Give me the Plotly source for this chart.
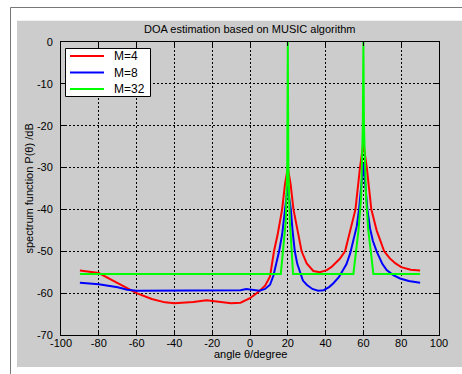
import plotly.graph_objects as go

# ---- data ----
red_x = [-90, -80, -70, -60, -52, -45, -40, -30, -23, -18, -10, -5, -2, 0, 3, 5, 8, 10.6, 12.7, 14.7,
         17, 18.5, 20, 21.5, 23, 25.3, 27.3, 30, 33.5, 37, 40.6, 43, 45, 47.5, 50.3, 53, 55.8, 58.2,
         59, 60, 61, 61.8, 64.2, 67, 71, 74, 77, 80, 85, 90]
red_y = [-54.6, -55.2, -57.6, -60.0, -61.4, -62.2, -62.4, -62.1, -61.7, -62.0, -62.4, -62.3, -61.7,
         -61.2, -60.2, -59.5, -58.2, -56.0, -50.0, -45.8, -40.0, -34.0, -30.0, -34.0, -40.0, -45.8,
         -50.0, -52.9, -54.7, -55.0, -54.5, -53.8, -52.9, -51.8, -50.0, -45.0, -40.0, -30.0, -27.5,
         -24.1, -27.5, -30.0, -40.0, -45.0, -50.0, -51.7, -52.9, -53.8, -54.4, -54.6]

blue_x = [-90, -80, -70, -65, -60, -50, -40, -20, -5, -2, 2, 5, 8, 10.6, 12.4, 14, 15.4, 17, 18.6,
          19.5, 20, 20.5, 21.6, 22.5, 23.7, 25, 26.5, 28, 30, 33, 36, 39, 42, 44, 47, 49.4, 51, 53,
          55, 56.5, 57.7, 59, 60, 61, 62.1, 63.5, 65, 67, 70, 72.3, 75.8, 79.4, 84, 90]
blue_y = [-57.5, -57.9, -58.6, -59.2, -59.4, -59.4, -59.4, -59.4, -59.3, -59.0, -59.3, -59.4, -59.0,
          -58.0, -55.8, -53.0, -50.0, -46.0, -40.0, -36.5, -34.3, -36.5, -40.0, -45.0, -50.0, -53.0,
          -55.3, -57.0, -58.0, -59.0, -59.4, -59.3, -58.5, -57.7, -56.2, -54.5, -53.1, -50.5, -47.0,
          -44.0, -40.0, -34.0, -29.0, -34.0, -40.0, -44.5, -47.5, -50.0, -53.0, -54.5, -55.7, -56.5,
          -57.1, -57.5]

green_x = [-90, 16.3, 18.9, 19.7, 20, 20.3, 21.1, 22.8, 54.7, 57.4, 58.8, 59.7, 60, 60.3, 61.4,
           62.6, 65.3, 90]
green_y = [-55.4, -55.4, -43, -30, 0, -30, -43, -55.4, -55.4, -45, -37, -20, 0, -20, -37, -45,
           -55.4, -55.4]

series_names = ["M=4", "M=8", "M=32"]
series_colors = ["#ff0000", "#0000ff", "#00ff00"]

x_ticks = [-100, -80, -60, -40, -20, 0, 20, 40, 60, 80, 100]
y_ticks = [0, -10, -20, -30, -40, -50, -60, -70]

FONT = "Liberation Sans, Arial, sans-serif"

fig = go.Figure()
for xs, ys, name, col in zip([red_x, blue_x, green_x], [red_y, blue_y, green_y],
                             series_names, series_colors):
    fig.add_trace(go.Scatter(x=xs, y=ys, mode="lines", name=name,
                             line=dict(color=col, width=2), showlegend=False))

W, H = 462, 374
L, R, T, B = 61, 439, 42, 335
pw, ph = R - L, B - T


def px(X):
    return (X - L) / pw


def py(Y):
    return (B - Y) / ph


axis_common = dict(showline=True, linecolor="black", linewidth=1, mirror="ticks",
                   ticks="inside", ticklen=4, tickcolor="black",
                   showgrid=True, gridcolor="black", gridwidth=1, griddash="2px,2px",
                   zeroline=False, tickfont=dict(family=FONT, size=11, color="black"))

shapes = [
    dict(type="rect", xref="paper", yref="paper", layer="below",
         x0=px(17), x1=px(470), y0=py(367), y1=py(20.7),
         fillcolor="#cccccc", line=dict(width=0)),
    dict(type="rect", xref="paper", yref="paper", layer="below",
         x0=px(10.5), x1=px(480), y0=py(390), y1=py(7.5),
         fillcolor="rgba(0,0,0,0)", line=dict(color="#777777", width=1)),
    # legend box
    dict(type="rect", xref="paper", yref="paper", layer="above",
         x0=px(65.5), x1=px(150.5), y0=py(96.5), y1=py(48.5),
         fillcolor="white", line=dict(color="black", width=1)),
]
annotations = [
    dict(text="DOA estimation based on MUSIC algorithm", xref="paper", yref="paper",
         x=0.5, y=py(29), xanchor="center", yanchor="middle", showarrow=False,
         font=dict(family=FONT, size=11, color="black")),
    dict(text="angle θ/degree", xref="paper", yref="paper",
         x=0.5, y=py(354), xanchor="center", yanchor="middle", showarrow=False,
         font=dict(family=FONT, size=11, color="black")),
    dict(text="spectrum function P(θ) /dB", xref="paper", yref="paper",
         x=px(28), y=0.5, xanchor="center", yanchor="middle", showarrow=False,
         textangle=-90, font=dict(family=FONT, size=11, color="black")),
]
legend_rows = [56, 72.5, 89]
for name, col, yy in zip(series_names, series_colors, legend_rows):
    shapes.append(dict(type="line", xref="paper", yref="paper", layer="above",
                       x0=px(70), x1=px(104), y0=py(yy), y1=py(yy),
                       line=dict(color=col, width=2)))
    annotations.append(dict(text=name, xref="paper", yref="paper", x=px(112), y=py(yy),
                            xanchor="left", yanchor="middle", showarrow=False,
                            font=dict(family=FONT, size=12, color="black")))

fig.update_layout(
    width=W, height=H,
    margin=dict(l=L, r=W - R, t=T, b=H - B, pad=0),
    paper_bgcolor="white", plot_bgcolor="white",
    showlegend=False,
    xaxis=dict(range=[-100, 100], tickvals=x_ticks, ticktext=[str(v) for v in x_ticks],
               ticklabelstandoff=-2, **axis_common),
    yaxis=dict(range=[-70, 0], tickvals=y_ticks, ticktext=[str(v) for v in y_ticks],
               ticklabelstandoff=5, **axis_common),
    shapes=shapes,
    annotations=annotations,
)

fig.write_html("out.html", config={"displayModeBar": False},
               post_script="document.body.style.margin='0';document.body.style.padding='0';")
